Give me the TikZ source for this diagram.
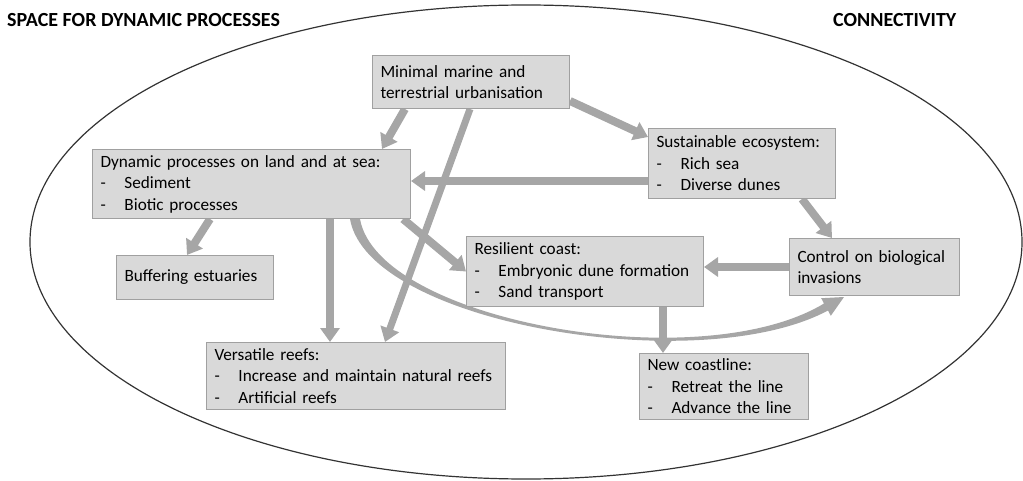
\documentclass[tikz,border=0pt]{standalone}
\usepackage{fontspec}
\setmainfont{Carlito}
\usetikzlibrary{arrows.meta,calc}

\definecolor{boxfill}{HTML}{D9D9D9}
\definecolor{boxline}{HTML}{A0A0A0}
\definecolor{arrowgray}{HTML}{A6A6A6}
\definecolor{rimline}{HTML}{333333}

\newcommand\itm[1]{\makebox[24pt][l]{-}#1}

\tikzset{
  box/.style={draw=boxline, fill=boxfill, line width=1pt, inner xsep=8pt,
    inner ysep=0pt, align=left, anchor=north west,
    font=\fontsize{17.2}{21.5}\selectfont},
  blockarrow/.style={draw=arrowgray, line width=8pt,
    -{Triangle[width=19pt,length=14pt]}},
  thinblock/.style={blockarrow, line width=7pt},
  heading/.style={anchor=west, inner sep=0pt, font=\fontsize{20}{24}\selectfont\bfseries},
}

\begin{document}
\begin{tikzpicture}[x=1pt, y=-1pt]
\useasboundingbox (0,0) rectangle (1023,481);

% outer rim
\draw[rimline, line width=1.2pt] (526,242) ellipse [x radius=496, y radius=237];

% headings
\node[heading] (lefthead) at (7,20) {SPACE FOR DYNAMIC PROCESSES};
\node[heading] (righthead) at (833,20) {CONNECTIVITY};

% boxes (placed first so the arrows can refer to them, redrawn on top later)
\path
  (372,55)  node[box, minimum width=197pt, minimum height=53pt, text width=181pt] (mini)
     {Minimal marine and\\terrestrial urbanisation}
  (92,149)  node[box, minimum width=318pt, minimum height=69pt, text width=302pt] (dyn)
     {Dynamic processes on land and at sea:\\\itm{Sediment}\\\itm{Biotic processes}}
  (648,128) node[box, minimum width=187pt, minimum height=70pt, text width=171pt] (sus)
     {Sustainable ecosystem:\\\itm{Rich sea}\\\itm{Diverse dunes}}
  (116,255) node[box, minimum width=157pt, minimum height=44pt, text width=141pt] (buf)
     {Buffering estuaries}
  (466,236) node[box, minimum width=237pt, minimum height=70pt, text width=221pt] (res)
     {Resilient coast:\\\itm{Embryonic dune formation}\\\itm{Sand transport}}
  (789,238) node[box, minimum width=170pt, minimum height=57pt, text width=154pt] (ctrl)
     {Control on biological\\invasions}
  (206,342) node[box, minimum width=299pt, minimum height=67pt, text width=283pt] (vers)
     {Versatile reefs:\\\itm{Increase and maintain natural reefs}\\\itm{Artificial reefs}}
  (639,353) node[box, minimum width=169pt, minimum height=66pt, text width=153pt] (newc)
     {New coastline:\\\itm{Retreat the line}\\\itm{Advance the line}};

% curved tapering arrow from the dynamic processes to the invasion control
\coordinate (cso) at ([xshift=258pt]dyn.south west);
\coordinate (csi) at ([xshift=268pt]dyn.south west);
\coordinate (ceo) at ([xshift=39pt,yshift=-14.5pt]ctrl.south west);
\coordinate (cei) at ([xshift=35pt,yshift=-7.5pt]ctrl.south west);
\coordinate (cho) at ([xshift=41.8pt,yshift=-19.8pt]ctrl.south west);
\coordinate (chi) at ([xshift=32.2pt,yshift=-2.2pt]ctrl.south west);
\coordinate (cht) at ([xshift=55pt,yshift=-1pt]ctrl.south west);
\fill[arrowgray] (cso) .. controls +(18,105) and +(-128,68.5) .. (ceo)
  -- (cho) -- (cht) -- (chi) -- (cei)
  .. controls +(-124,75) and +(18,102) .. (csi) -- cycle;

% straight block arrows
\draw[blockarrow] ([xshift=33pt]mini.south west) -- ([xshift=290pt]dyn.north west);
\draw[blockarrow] ([yshift=8pt]mini.south east) -- ([yshift=-9pt]sus.north west);
\draw[blockarrow] ([yshift=18pt]sus.south west) -- ([yshift=18pt]sus.south west -| dyn.east);
\draw[blockarrow] ([xshift=154pt]sus.south west) -- ([xshift=43pt]ctrl.north west);
\draw[blockarrow] (ctrl.west) -- (ctrl.west -| res.east);
\draw[blockarrow] ([xshift=-8pt]dyn.south east) -- (res.west);
\draw[blockarrow] ([xshift=118pt]dyn.south west) -- ([xshift=71pt]buf.north west);
\draw[blockarrow] ([xshift=238pt]dyn.south west) -- ([xshift=238pt]dyn.south west |- vers.north);
\draw[blockarrow] ([xshift=197pt]res.south west) -- ([xshift=197pt]res.south west |- newc.north);
\draw[thinblock] ([xshift=98pt]mini.south west) -- ([xshift=179pt]vers.north west);

% boxes again on top of the arrow shafts
\path
  (mini.north west) node[box, minimum width=197pt, minimum height=53pt, text width=181pt]
     {Minimal marine and\\terrestrial urbanisation}
  (dyn.north west)  node[box, minimum width=318pt, minimum height=69pt, text width=302pt]
     {Dynamic processes on land and at sea:\\\itm{Sediment}\\\itm{Biotic processes}}
  (sus.north west)  node[box, minimum width=187pt, minimum height=70pt, text width=171pt]
     {Sustainable ecosystem:\\\itm{Rich sea}\\\itm{Diverse dunes}}
  (buf.north west)  node[box, minimum width=157pt, minimum height=44pt, text width=141pt]
     {Buffering estuaries}
  (res.north west)  node[box, minimum width=237pt, minimum height=70pt, text width=221pt]
     {Resilient coast:\\\itm{Embryonic dune formation}\\\itm{Sand transport}}
  (ctrl.north west) node[box, minimum width=170pt, minimum height=57pt, text width=154pt]
     {Control on biological\\invasions}
  (vers.north west) node[box, minimum width=299pt, minimum height=67pt, text width=283pt]
     {Versatile reefs:\\\itm{Increase and maintain natural reefs}\\\itm{Artificial reefs}}
  (newc.north west) node[box, minimum width=169pt, minimum height=66pt, text width=153pt]
     {New coastline:\\\itm{Retreat the line}\\\itm{Advance the line}};
\end{tikzpicture}
\end{document}
